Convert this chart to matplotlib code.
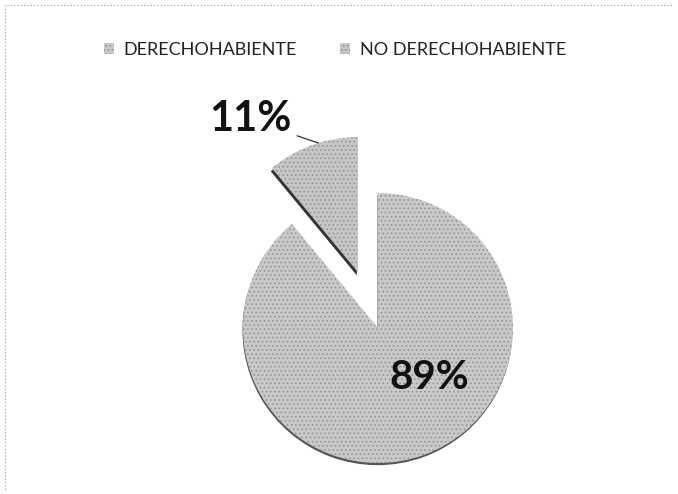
import matplotlib
matplotlib.use("Agg")
import matplotlib.pyplot as plt
from matplotlib.lines import Line2D
import numpy as np

plt.rcParams['font.family'] = ['Lato', 'DejaVu Sans']
plt.rcParams['hatch.color'] = '#8e8e8e'
plt.rcParams['hatch.linewidth'] = 0.6

# derechohabiencia de la muestra
categorias = ['DERECHOHABIENTE', 'NO DERECHOHABIENTE']
porcentajes = [89, 11]
separacion = [0, 0.44]
etiquetas = ['%d%%' % p for p in porcentajes]

fig = plt.figure(figsize=(6.78, 4.94), dpi=100)
ax = fig.add_axes([162 / 678, -50 / 494, 432 / 678, 432 / 494])

# sombra oscura para el canto de las rebanadas
sombras, _ = ax.pie(porcentajes, explode=separacion, startangle=90,
                    counterclock=False, colors=['#555555', '#333333'],
                    center=(-0.004, -0.016), wedgeprops=dict(linewidth=0))
sx, sy = sombras[1].center
sombras[1].set_center((sx - 0.004, sy - 0.008))

wedges, _ = ax.pie(porcentajes, explode=separacion, startangle=90,
                   counterclock=False, colors=['#c9c9c9', '#c6c6c6'],
                   wedgeprops=dict(linewidth=0, hatch='....'))
ax.set_xlim(-1.6, 1.6)
ax.set_ylim(-1.6, 1.6)
ax.set_aspect('equal')
ax.axis('off')

# etiqueta de la rebanada separada con linea guia
w = wedges[1]
ang = np.deg2rad(107)
cx, cy = w.center
punto = (cx + w.r * np.cos(ang), cy + w.r * np.sin(ang))
ax.annotate(etiquetas[1], xy=punto, xytext=(-0.64, 1.55), ha='right',
            va='center', fontsize=30, fontweight='bold', color='#111111',
            arrowprops=dict(arrowstyle='-', color='#333333', lw=0.9,
                            shrinkA=2, shrinkB=0, relpos=(1.0, 0.1)),
            annotation_clip=False)
ax.text(0.378, -0.37, etiquetas[0], ha='center', va='center',
        fontsize=29, fontweight='bold', color='#111111')

fig.legend(wedges, categorias, loc='center', ncol=2, frameon=False,
           bbox_to_anchor=(335 / 678, 1 - 50 / 494), fontsize=13,
           handlelength=0.55, handleheight=0.55, handletextpad=0.55,
           columnspacing=2.4, labelcolor='#222222')

# marco punteado del grafico
fig.add_artist(Line2D([7 / 678, 672 / 678], [1 - 5 / 494] * 2, color='#9a9a9a',
                      lw=0.8, ls=(0, (1, 2))))
fig.add_artist(Line2D([5 / 678] * 2, [1 - 5 / 494, 1 - 490 / 494], color='#9a9a9a',
                      lw=0.8, ls=(0, (1, 2))))

fig.savefig('out.png', dpi=100)
